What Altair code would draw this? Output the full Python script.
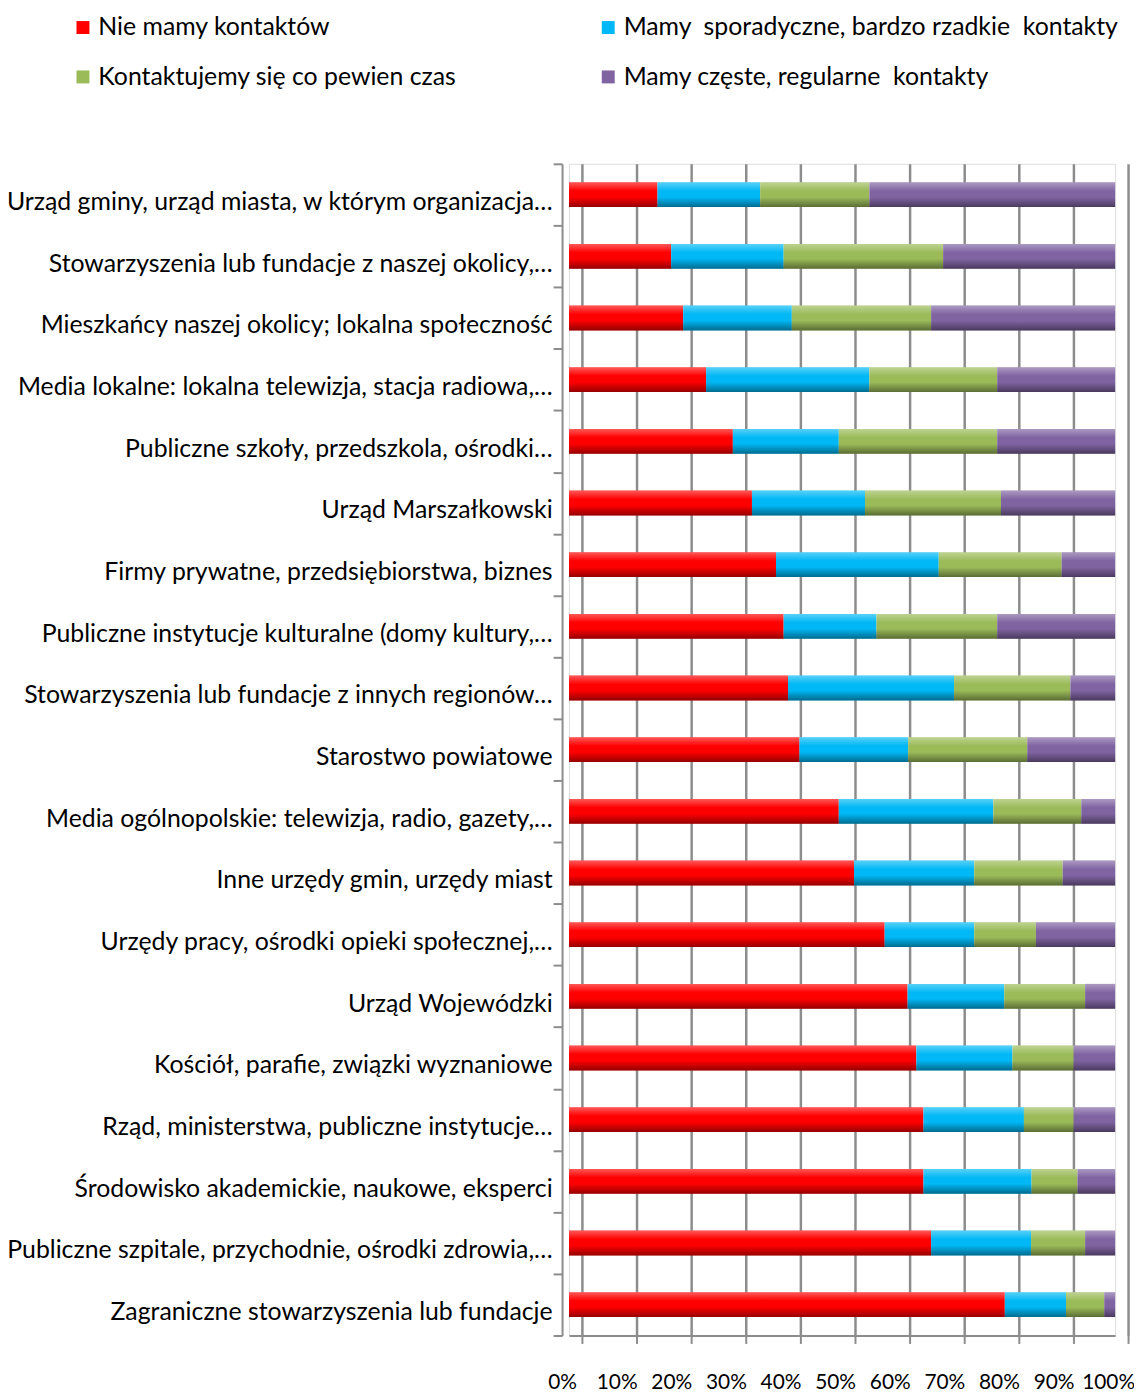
import altair as alt
import pandas as pd

NB = "\u00a0"
categories = [
    "Urząd gminy, urząd miasta, w którym organizacja…",
    "Stowarzyszenia lub fundacje z naszej okolicy,…",
    "Mieszkańcy naszej okolicy; lokalna społeczność" + NB * 3,
    "Media lokalne: lokalna telewizja, stacja radiowa,…",
    "Publiczne szkoły, przedszkola, ośrodki…",
    "Urząd Marszałkowski" + NB * 4,
    "Firmy prywatne, przedsiębiorstwa, biznes" + NB * 3,
    "Publiczne instytucje kulturalne (domy kultury,…",
    "Stowarzyszenia lub fundacje z innych regionów…",
    "Starostwo powiatowe" + NB * 4,
    "Media ogólnopolskie: telewizja, radio, gazety,…",
    "Inne urzędy gmin, urzędy miast" + NB * 4,
    "Urzędy pracy, ośrodki opieki społecznej,…",
    "Urząd Wojewódzki" + NB * 4,
    "Kościół, parafie, związki wyznaniowe" + NB * 3,
    "Rząd, ministerstwa, publiczne instytucje…",
    "Środowisko akademickie, naukowe, eksperci" + NB * 3,
    "Publiczne szpitale, przychodnie, ośrodki zdrowia,…",
    "Zagraniczne stowarzyszenia lub fundacje" + NB * 3,
]

series = [
    "Nie mamy kontaktów",
    "Mamy " + NB + "sporadyczne, bardzo rzadkie " + NB + "kontakty",
    "Kontaktujemy się co pewien czas",
    "Mamy częste, regularne " + NB + "kontakty",
]
colors = ["#FF0000", "#00B8F5", "#9BBB59", "#8064A2"]

nie_mamy = [16.2, 18.7, 20.9, 25.1, 30.0, 33.5, 37.9, 39.3, 40.1, 42.2,
            49.4, 52.2, 57.8, 62.0, 63.6, 64.9, 64.9, 66.3, 79.8]
sporadyczne = [18.8, 20.6, 19.9, 29.9, 19.4, 20.7, 29.8, 17.0, 30.4, 19.9,
               28.3, 22.0, 16.4, 17.7, 17.6, 18.4, 19.8, 18.3, 11.2]
co_pewien = [20.0, 29.2, 25.5, 23.4, 29.0, 24.9, 22.5, 22.1, 21.3, 21.8,
             16.1, 16.2, 11.3, 14.8, 11.2, 9.1, 8.4, 9.9, 7.0]
czeste = [45.0, 31.5, 33.7, 21.6, 21.6, 20.9, 9.8, 21.6, 8.2, 16.1,
          6.2, 9.6, 14.5, 5.5, 7.6, 7.6, 6.9, 5.5, 2.0]

rows = []
for i, cat in enumerate(categories):
    for j, vals in enumerate([nie_mamy, sporadyczne, co_pewien, czeste]):
        rows.append({"kategoria": cat, "seria": series[j], "order": j, "value": vals[i]})
df = pd.DataFrame(rows)

full = pd.DataFrame({"kategoria": categories, "start": [0.0] * len(categories),
                     "end": [1.0] * len(categories)})

FONT = "Lato"
GRAY = "#8c8c8c"

yenc = alt.Y("kategoria:N", sort=categories,
             scale=alt.Scale(paddingInner=0, paddingOuter=0),
             axis=alt.Axis(title=None, labelFont=FONT, labelFontSize=25,
                           labelColor="#000000", labelLimit=0, ticks=True,
                           tickBand="extent", tickOffset=9, tickSize=9,
                           tickColor=GRAY, tickWidth=2, labelOffset=7,
                           labelPadding=1, offset=7, domainColor=GRAY,
                           domainWidth=2, grid=False))

xscale = alt.Scale(domain=[0, 1], nice=False)

bars = alt.Chart(df).mark_bar(size=25).encode(
    x=alt.X("value:Q", stack="normalize", scale=xscale,
            axis=alt.Axis(title=None, format="%", values=[i / 10 for i in range(11)],
                          labelFont=FONT, labelFontSize=21, labelColor="#000000",
                          labelPadding=28, tickSize=8, tickColor=GRAY,
                          tickWidth=2, tickOffset=13, labelOffset=-20,
                          domainColor=GRAY, domainWidth=2,
                          gridColor=GRAY, gridWidth=2.5, labelFlush=False,
                          labelOverlap=False)),
    y=yenc,
    color=alt.Color("seria:N", sort=series,
                    scale=alt.Scale(domain=series, range=colors),
                    legend=alt.Legend(title=None, orient="none", legendX=-502,
                                      legendY=-150, columns=2, columnPadding=140,
                                      direction="horizontal",
                                      rowPadding=24, symbolType="square",
                                      symbolSize=170, symbolStrokeWidth=0,
                                      labelFont=FONT, labelFontSize=25,
                                      labelColor="#000000", labelLimit=0,
                                      labelOffset=3)),
    order=alt.Order("order:Q"),
)

shade = alt.Chart(full).mark_bar(
    size=25,
    color=alt.Gradient(
        gradient="linear",
        stops=[
            alt.GradientStop(color="rgba(255,255,255,0.35)", offset=0),
            alt.GradientStop(color="rgba(255,255,255,0.0)", offset=0.35),
            alt.GradientStop(color="rgba(0,0,0,0.0)", offset=0.6),
            alt.GradientStop(color="rgba(0,0,0,0.42)", offset=1),
        ],
        x1=0, x2=0, y1=0, y2=1,
    ),
).encode(
    x=alt.X("start:Q", scale=xscale),
    x2="end:Q",
    y=alt.Y("kategoria:N", sort=categories),
)

chart = alt.layer(bars, shade).properties(
    width=550, height=1180,
    autosize=alt.AutoSizeParams(type="none"),
    padding={"left": 565, "top": 152, "right": 19, "bottom": 53},
).configure_view(stroke=None).configure(background="white")

chart.save("out.html", embed_options={"renderer": "svg", "actions": False})
